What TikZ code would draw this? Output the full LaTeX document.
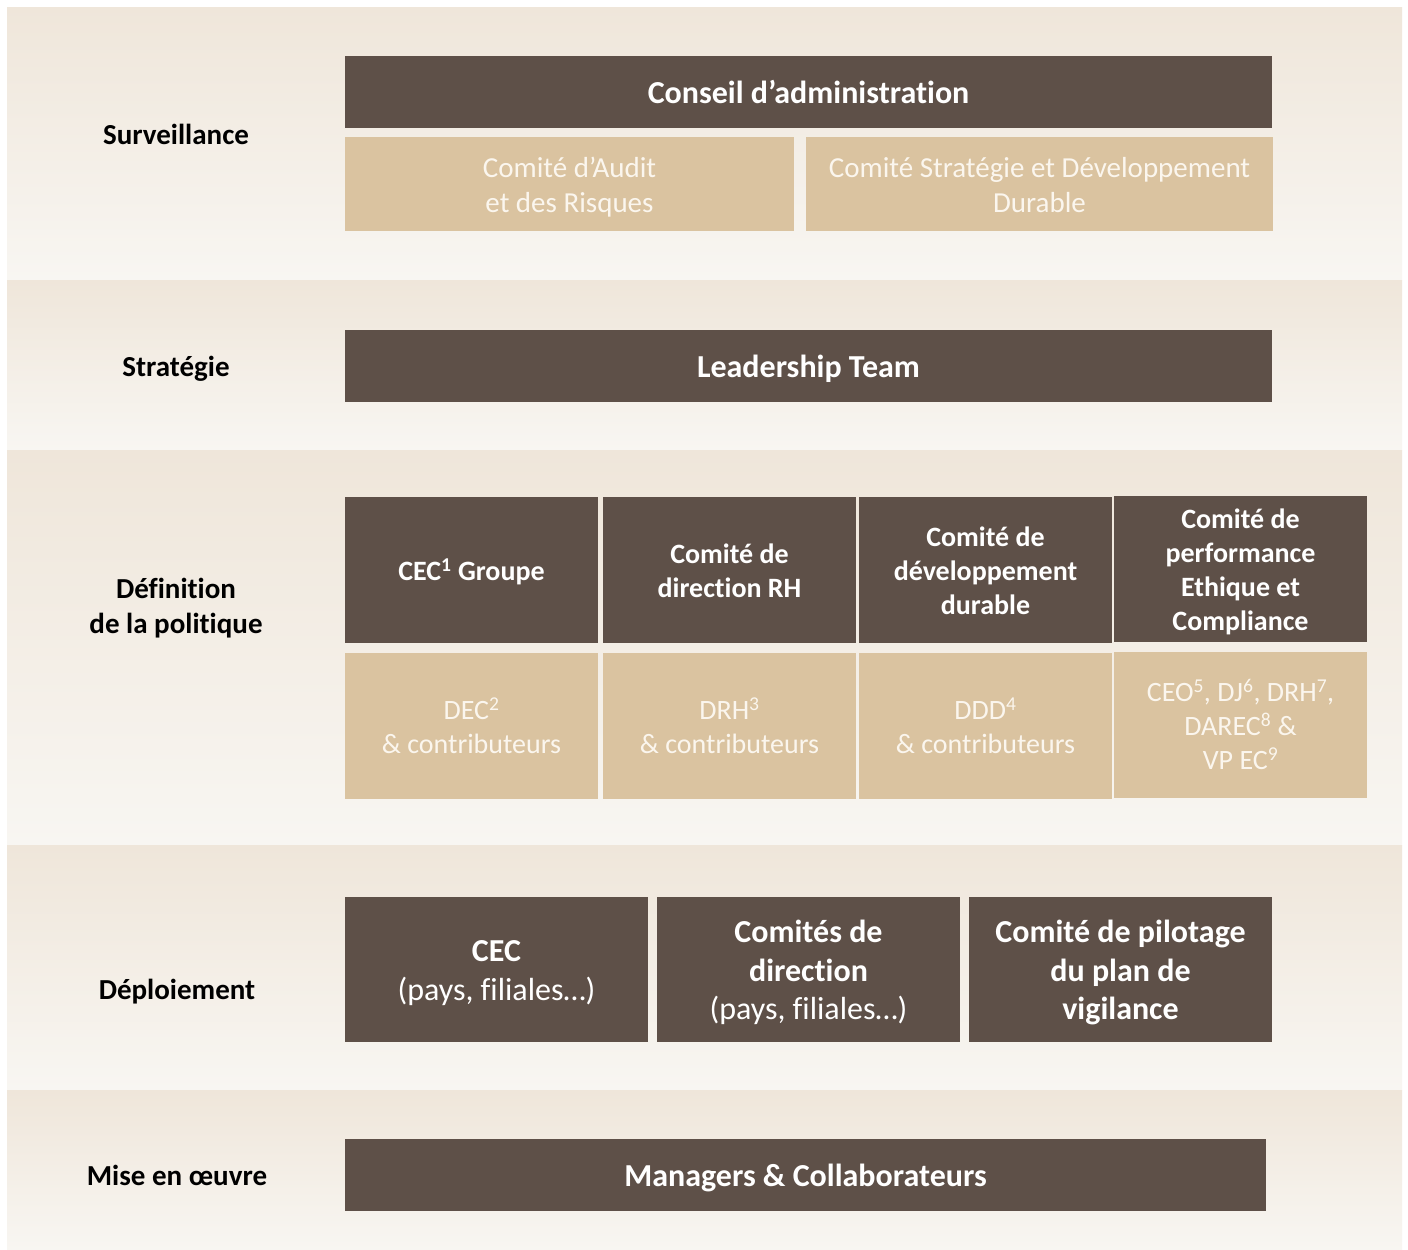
\documentclass[tikz,border=0pt]{standalone}
\usepackage{fontspec}
\setmainfont[Ligatures={NoCommon}]{Carlito}
\definecolor{darkbrown}{HTML}{5E5048}
\definecolor{tanbox}{HTML}{DAC3A0}
\definecolor{bandtop}{HTML}{EFE6DA}
\definecolor{bandbot}{HTML}{F8F6F2}
\definecolor{paletext}{HTML}{FBF6EE}
\newcommand\mystrut{\rule[-\dimexpr0.3\baselineskip-0.125em\relax]{0pt}{\baselineskip}}
\begin{document}
\begin{tikzpicture}[x=1pt,y=-1pt,
  band/.style={top color=bandtop, bottom color=bandbot, draw=none},
  txt/.style={execute at begin node=\mystrut, execute at end node=\mystrut},
  dbox/.style={txt, fill=darkbrown, text=white, inner sep=0pt, align=center, font=\bfseries\fontsize{32}{38.5}\selectfont},
  tbox/.style={txt, fill=tanbox, text=paletext, inner sep=0pt, align=center, font=\fontsize{29}{35}\selectfont},
  dsmall/.style={dbox, font=\bfseries\fontsize{28}{34}\selectfont},
  tsmall/.style={tbox, font=\fontsize{28}{34}\selectfont},
  lbl/.style={txt, align=center, text=black, inner sep=0pt, font=\bfseries\fontsize{29}{35}\selectfont}]
\useasboundingbox (0,0) rectangle (1408,1250);
\fill[white] (0,0) rectangle (1408,1250);
% bands
\fill[band] (7,7) rectangle (1402,280);
\fill[band] (7,280) rectangle (1402,450);
\fill[band] (7,450) rectangle (1402,845);
\fill[band] (7,845) rectangle (1402,1090);
\fill[band] (7,1090) rectangle (1402,1250);
% labels
\node[lbl] (lsurv) at (176,134) {Surveillance};
\node[lbl] (lstrat) at (176,366) {Stratégie};
\node[lbl] (ldef) at (176,605) {\mystrut Définition\\de la politique};
\node[lbl] (ldep) at (177,989) {Déploiement};
\node[lbl] (lmise) at (177,1175) {Mise en œuvre};
% surveillance
\node[dbox, minimum width=927pt, minimum height=72pt] (ca) at (808.5,92) {Conseil d’administration};
\node[tbox, minimum width=449pt, minimum height=94pt] (audit) at (569.5,184) {\mystrut Comité d’Audit\\et des Risques};
\node[tbox, minimum width=467pt, minimum height=94pt] (csdd) at (1039.5,184) {\mystrut Comité Stratégie et Développement\\Durable};
% strategie
\node[dbox, minimum width=927pt, minimum height=72pt] (lt) at (808.5,366) {Leadership Team};
% definition
\node[dsmall, minimum width=253pt, minimum height=146pt] (cecg) at (471.5,570) {CEC\textsuperscript{1} Groupe};
\node[dsmall, minimum width=253pt, minimum height=146pt] (cdrh) at (729.5,570) {\mystrut Comité de\\direction RH};
\node[dsmall, minimum width=253pt, minimum height=146pt] (cdd) at (985.5,570) {\mystrut Comité de\\développement\\durable};
\node[dsmall, minimum width=253pt, minimum height=146pt] (cpec) at (1240.5,569) {\mystrut Comité de\\performance\\Ethique et\\Compliance};
\node[tsmall, minimum width=253pt, minimum height=146pt] (dec) at (471.5,726) {\mystrut DEC\textsuperscript{2}\\\& contributeurs};
\node[tsmall, minimum width=253pt, minimum height=146pt] (drh) at (729.5,726) {\mystrut DRH\textsuperscript{3}\\\& contributeurs};
\node[tsmall, minimum width=253pt, minimum height=146pt] (ddd) at (985.5,726) {\mystrut DDD\textsuperscript{4}\\\& contributeurs};
\node[tsmall, minimum width=253pt, minimum height=146pt] (ceo) at (1240.5,725) {\mystrut CEO\textsuperscript{5}, DJ\textsuperscript{6}, DRH\textsuperscript{7},\\DAREC\textsuperscript{8} \&\\VP EC\textsuperscript{9}};
% deploiement
\node[dbox, minimum width=303pt, minimum height=145pt] (cec) at (496.5,969.5) {\mystrut CEC\\\mdseries(pays, filiales…)};
\node[dbox, minimum width=303pt, minimum height=145pt] (cdir) at (808.5,969.5) {\mystrut Comités de\\direction\\\mdseries(pays, filiales…)};
\node[dbox, minimum width=303pt, minimum height=145pt] (cpil) at (1120.5,969.5) {\mystrut Comité de pilotage\\du plan de\\vigilance};
% mise en oeuvre
\node[dbox, minimum width=921pt, minimum height=72pt] (mgr) at (805.5,1175) {Managers \& Collaborateurs};
\end{tikzpicture}
\end{document}
